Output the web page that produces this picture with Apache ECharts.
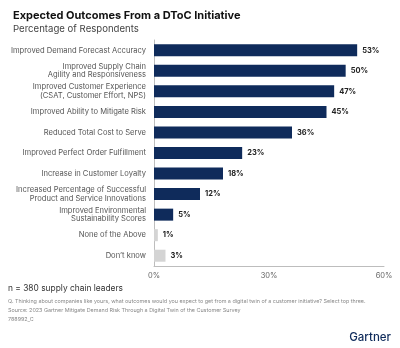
<!DOCTYPE html>
<html>
<head>
<meta charset="utf-8">
<script src="https://cdn.jsdelivr.net/npm/echarts@6/dist/echarts.min.js"></script>
<style>
  html, body { margin: 0; padding: 0; background: #fff; }
  #chart { width: 400px; height: 348px; }
</style>
</head>
<body>
<div id="chart"></div>
<script>
// Survey outcomes, top to bottom as listed
const categories = [
  'Improved Demand Forecast Accuracy',
  'Improved Supply Chain\nAgility and Responsiveness',
  'Improved Customer Experience\n(CSAT, Customer Effort, NPS)',
  'Improved Ability to Mitigate Risk',
  'Reduced Total Cost to Serve',
  'Improved Perfect Order Fulfillment',
  'Increase in Customer Loyalty',
  'Increased Percentage of Successful\nProduct and Service Innovations',
  'Improved Environmental\nSustainability Scores',
  'None of the Above',
  "Don\u2019t know"
];
const values = [53, 50, 47, 45, 36, 23, 18, 12, 5, 1, 3];
// Non-answers are shown in grey
const muted = [false, false, false, false, false, false, false, false, false, true, true];
const xTicks = [0, 30, 60];

const NAVY = '#0f2b5b';
const GREY = '#d4d4d4';
const FONT = 'Inter, "Noto Sans", sans-serif';

const chart = echarts.init(document.getElementById('chart'), null, { renderer: 'canvas' });

chart.setOption({
  animation: false,
  textStyle: { fontFamily: FONT },
  title: [
    {
      text: 'Expected Outcomes From a DToC Initiative',
      left: 8, top: 5,
      textStyle: { fontSize: 11, fontWeight: 'bold', color: '#111', fontFamily: FONT }
    },
    {
      text: 'Percentage of Respondents',
      left: 8, top: 19,
      textStyle: { fontSize: 9.6, fontWeight: 'normal', color: '#444', fontFamily: FONT }
    }
  ],
  grid: { left: 154, right: 16, top: 40, bottom: 82, containLabel: false },
  xAxis: {
    type: 'value',
    min: 0, max: 60, interval: 30,
    axisLine: { show: true, lineStyle: { color: '#bdbdbd', width: 1 } },
    axisTick: { show: false },
    splitLine: { show: false },
    axisLabel: {
      color: '#666', fontSize: 7.5, margin: 6,
      formatter: v => xTicks.includes(v) ? v + '%' : ''
    }
  },
  yAxis: {
    type: 'category',
    data: categories,
    inverse: true,
    axisLine: { show: true, lineStyle: { color: '#bdbdbd', width: 1 } },
    axisTick: { show: false },
    axisLabel: {
      color: '#555', fontSize: 7.6, margin: 8, lineHeight: 8.5, align: 'right'
    }
  },
  series: [{
    type: 'bar',
    barWidth: 12,
    data: values.map((v, i) => ({
      value: v,
      itemStyle: { color: muted[i] ? GREY : NAVY }
    })),
    label: {
      show: true,
      position: 'right',
      distance: 5,
      formatter: p => p.value + '%',
      fontSize: 7.5, fontWeight: 'bold', color: '#222'
    }
  }],
  graphic: [
    {
      type: 'text', left: 8, top: 284,
      style: { text: 'n = 380 supply chain leaders', fontSize: 8.4, fill: '#333', fontFamily: FONT }
    },
    {
      type: 'text', left: 8, top: 299,
      style: {
        text: 'Q. Thinking about companies like yours, what outcomes would you expect to get from a digital twin of a customer initiative? Select top three.',
        fontSize: 5.4, fill: '#888', fontFamily: FONT
      }
    },
    {
      type: 'text', left: 8, top: 308,
      style: {
        text: 'Source: 2023 Gartner Mitigate Demand Risk Through a Digital Twin of the Customer Survey',
        fontSize: 5.4, fill: '#888', fontFamily: FONT
      }
    },
    {
      type: 'text', left: 8, top: 317,
      style: { text: '788992_C', fontSize: 5.4, fill: '#888', fontFamily: FONT }
    },
    {
      type: 'text', right: 9, top: 332,
      style: { text: 'Gartner', fontSize: 11.5, fontWeight: 500, fill: '#0f2b5b', fontFamily: FONT }
    }
  ]
});
</script>
</body>
</html>
